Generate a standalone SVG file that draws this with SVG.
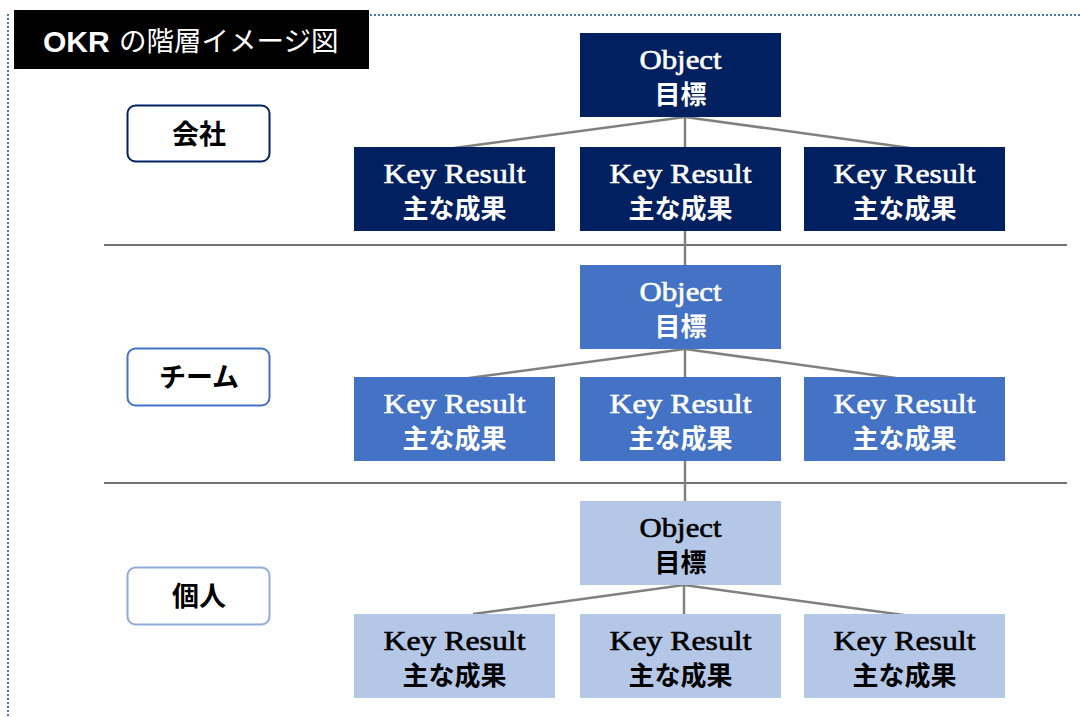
<svg xmlns="http://www.w3.org/2000/svg" width="1080" height="717" viewBox="0 0 1080 717">
<style>
.serif{font-family:"Liberation Serif","Noto Serif",serif;font-size:27px;text-anchor:middle;stroke-width:0.6}
.jp{font-family:"Noto Sans CJK JP",sans-serif;font-size:26px;font-weight:700;text-anchor:middle}
.lab{font-family:"Noto Sans CJK JP",sans-serif;font-size:27px;font-weight:700;text-anchor:middle;fill:#000}
.c1{fill:#002060}.c2{fill:#4472C4}.c3{fill:#B4C7E7}
.w{fill:#fff}.k{fill:#000}
.serif.w{stroke:#fff}.serif.k{stroke:#000}
.conn{stroke:#808080;stroke-width:2.5;fill:none}
.sep{stroke:#404040;stroke-width:1.5}
</style>
<rect width="1080" height="717" fill="#fff"/>
<g id="frame" fill="none" stroke="#4a78b5" stroke-width="2" stroke-dasharray="2 2">
<line x1="370" y1="15" x2="1080" y2="15"/>
<line x1="8" y1="14" x2="8" y2="717"/>
</g>
<g id="title">
<rect x="14" y="10" width="355" height="59" fill="#000"/>
<text x="43" y="52" font-family="'Liberation Sans','Noto Sans CJK JP',sans-serif" font-size="30" font-weight="700" fill="#fff">OKR</text>
<text x="119" y="51" font-family="'Noto Sans CJK JP',sans-serif" font-size="27.5" fill="#fff">の階層イメージ図</text>
</g>
<g id="separators">
<line class="sep" x1="104" y1="245" x2="1067" y2="245"/>
<line class="sep" x1="104" y1="483" x2="1067" y2="483"/>
</g>
<g id="connectors">
<line class="conn" x1="685" y1="117" x2="685" y2="265"/>
<polyline class="conn" points="454,148 685,117 910,148"/>
<line class="conn" x1="685" y1="349" x2="685" y2="501"/>
<polyline class="conn" points="454,380 685,349 910,380"/>
<line class="conn" x1="684" y1="585" x2="684" y2="614"/>
<polyline class="conn" points="473,614 684,585 911,616"/>
</g>
<g id="label-company">
<rect x="127.5" y="105.5" width="142" height="56" rx="8" fill="#fff" stroke="#002060" stroke-width="2"/>
<text class="lab" x="199" y="144">会社</text>
</g>
<g id="label-team">
<rect x="127.5" y="348.5" width="142" height="57" rx="8" fill="#fff" stroke="#4472C4" stroke-width="2"/>
<text class="lab" x="199" y="387">チーム</text>
</g>
<g id="label-individual">
<rect x="127.5" y="567.5" width="142" height="57" rx="8" fill="#fff" stroke="#8FAADC" stroke-width="2"/>
<text class="lab" x="199" y="606">個人</text>
</g>
<!-- Row 1 -->
<g id="obj1"><rect class="c1" x="580" y="33" width="201" height="84"/><text class="serif w" x="680.5" y="69" textLength="82" lengthAdjust="spacingAndGlyphs">Object</text><text class="jp w" x="680.5" y="104">目標</text></g>
<g id="kr1a"><rect class="c1" x="354" y="147" width="201" height="84"/><text class="serif w" x="454.5" y="183" textLength="142" lengthAdjust="spacingAndGlyphs">Key Result</text><text class="jp w" x="454.5" y="218">主な成果</text></g>
<g id="kr1b"><rect class="c1" x="580" y="147" width="201" height="84"/><text class="serif w" x="680.5" y="183" textLength="142" lengthAdjust="spacingAndGlyphs">Key Result</text><text class="jp w" x="680.5" y="218">主な成果</text></g>
<g id="kr1c"><rect class="c1" x="804" y="147" width="201" height="84"/><text class="serif w" x="904.5" y="183" textLength="142" lengthAdjust="spacingAndGlyphs">Key Result</text><text class="jp w" x="904.5" y="218">主な成果</text></g>
<!-- Row 2 -->
<g id="obj2"><rect class="c2" x="580" y="265" width="201" height="84"/><text class="serif w" x="680.5" y="301" textLength="82" lengthAdjust="spacingAndGlyphs">Object</text><text class="jp w" x="680.5" y="336">目標</text></g>
<g id="kr2a"><rect class="c2" x="354" y="377" width="201" height="84"/><text class="serif w" x="454.5" y="413" textLength="142" lengthAdjust="spacingAndGlyphs">Key Result</text><text class="jp w" x="454.5" y="448">主な成果</text></g>
<g id="kr2b"><rect class="c2" x="580" y="377" width="201" height="84"/><text class="serif w" x="680.5" y="413" textLength="142" lengthAdjust="spacingAndGlyphs">Key Result</text><text class="jp w" x="680.5" y="448">主な成果</text></g>
<g id="kr2c"><rect class="c2" x="804" y="377" width="201" height="84"/><text class="serif w" x="904.5" y="413" textLength="142" lengthAdjust="spacingAndGlyphs">Key Result</text><text class="jp w" x="904.5" y="448">主な成果</text></g>
<!-- Row 3 -->
<g id="obj3"><rect class="c3" x="580" y="501" width="201" height="84"/><text class="serif k" x="680.5" y="537" textLength="82" lengthAdjust="spacingAndGlyphs">Object</text><text class="jp k" x="680.5" y="572">目標</text></g>
<g id="kr3a"><rect class="c3" x="354" y="614" width="201" height="84"/><text class="serif k" x="454.5" y="650" textLength="142" lengthAdjust="spacingAndGlyphs">Key Result</text><text class="jp k" x="454.5" y="685">主な成果</text></g>
<g id="kr3b"><rect class="c3" x="580" y="614" width="201" height="84"/><text class="serif k" x="680.5" y="650" textLength="142" lengthAdjust="spacingAndGlyphs">Key Result</text><text class="jp k" x="680.5" y="685">主な成果</text></g>
<g id="kr3c"><rect class="c3" x="804" y="614" width="201" height="84"/><text class="serif k" x="904.5" y="650" textLength="142" lengthAdjust="spacingAndGlyphs">Key Result</text><text class="jp k" x="904.5" y="685">主な成果</text></g>
</svg>
